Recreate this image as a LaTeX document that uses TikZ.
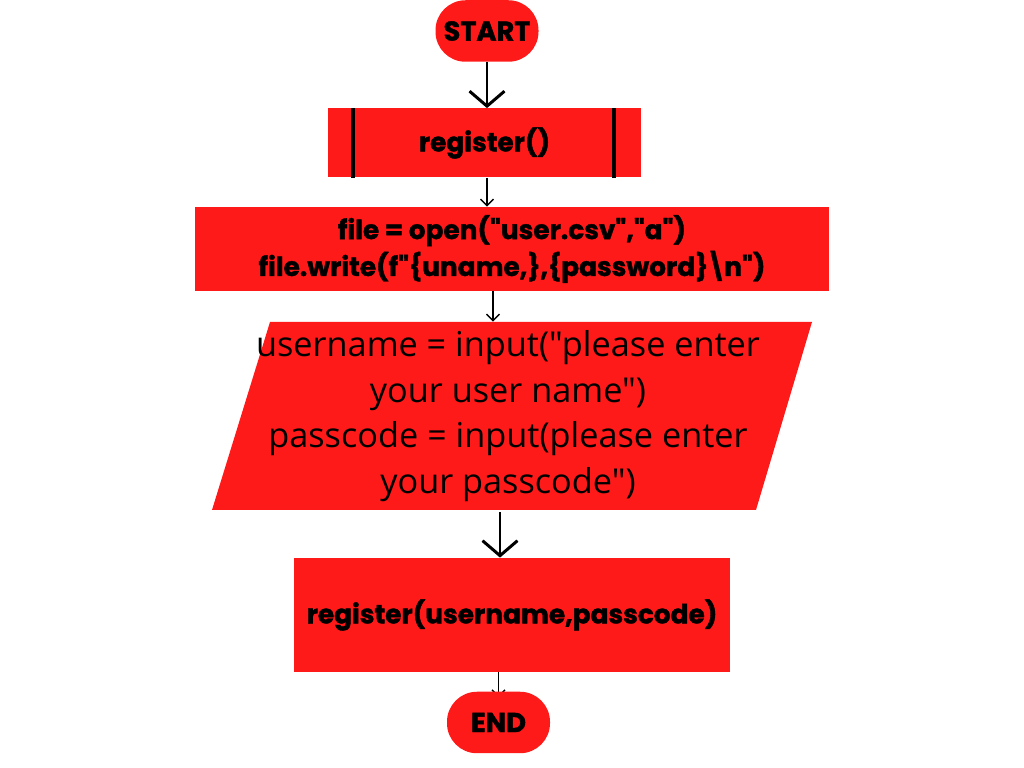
\documentclass[tikz,border=0pt]{standalone}
\usepackage{fontspec}
\newfontfamily\flowfont{Poppins}[BoldFeatures={FakeBold=1.4}]
\newfontfamily\askfont{Open Sans}
\usepackage{tikz}
\usetikzlibrary{shapes,arrows.meta,backgrounds,positioning,calc}
\definecolor{flowred}{RGB}{255,26,26}
\tikzstyle{terminal}=[fill=flowred, rounded corners=0.6cm, minimum width=2.06cm, minimum height=1.23cm, font=\flowfont\bfseries\fontsize{15.5}{16}\selectfont]
\tikzstyle{process}=[fill=flowred, align=center, inner sep=0pt, font=\flowfont\bfseries\fontsize{15}{21}\selectfont]
\tikzstyle{ask}=[align=center, inner sep=0pt, minimum height=3.76cm, font=\askfont\fontsize{19.5}{26}\selectfont]
\tikzstyle{bigarrow}=[line width=1.7pt, -{Straight Barb[length=0.3cm,width=0.7cm]}]
\tikzstyle{smallarrow}=[line width=0.8pt, -{Straight Barb[length=0.13cm,width=0.26cm]}]

\begin{document}
\begin{tikzpicture}
        \useasboundingbox (0,0) rectangle (20.48,15.36);
        %
        \node at (9.74,14.74) [terminal] (start) {START};
        \node at (9.69,12.5) [process, minimum width=6.26cm, minimum height=1.38cm] (sub) {register()};
        \draw[line width=2.2pt] ([xshift=0.5cm]sub.north west) -- ([xshift=0.5cm]sub.south west);
        \draw[line width=2.2pt] ([xshift=-0.54cm]sub.north east) -- ([xshift=-0.54cm]sub.south east);
        \node at (10.24,10.38) [process, minimum width=12.68cm, minimum height=1.68cm] (file)
          {file = open("user.csv","a")\\file.write(f"\{uname,\},\{password\}\kern-0.1em\textbackslash\kern-0.1em n")};
        %
        \fill[flowred] (5.40,8.92) -- (16.24,8.92) -- (15.12,5.16) -- (4.24,5.16) -- cycle;
        \node at (10.16,7.04) [ask] (inp)
          {username = input("please enter\\your user name")\\passcode = input(please enter\\your passcode")};
        %
        \node at (10.24,3.06) [process, minimum width=8.72cm, minimum height=2.28cm] (reg) {register(username,passcode)};
        \node at (9.97,0.91) [terminal] (stop) {END};
        %
        \draw[bigarrow] (start.south) -- (start.south |- sub.north);
        \draw[smallarrow] ([xshift=0.05cm]sub.south) -- ([xshift=0.05cm]sub.south |- file.north);
        \draw[smallarrow] ([xshift=-0.38cm]file.south) -- ([xshift=-0.38cm]file.south |- inp.north);
        \draw[bigarrow] ([xshift=-0.16cm,yshift=-0.04cm]inp.south) -- ([xshift=-0.16cm]inp.south |- reg.north);
        \begin{pgfonlayer}{background}
          \draw[smallarrow, shorten >=-0.12cm] (reg.south -| stop.north) -- (stop.north);
        \end{pgfonlayer}
      \end{tikzpicture}
\end{document}
